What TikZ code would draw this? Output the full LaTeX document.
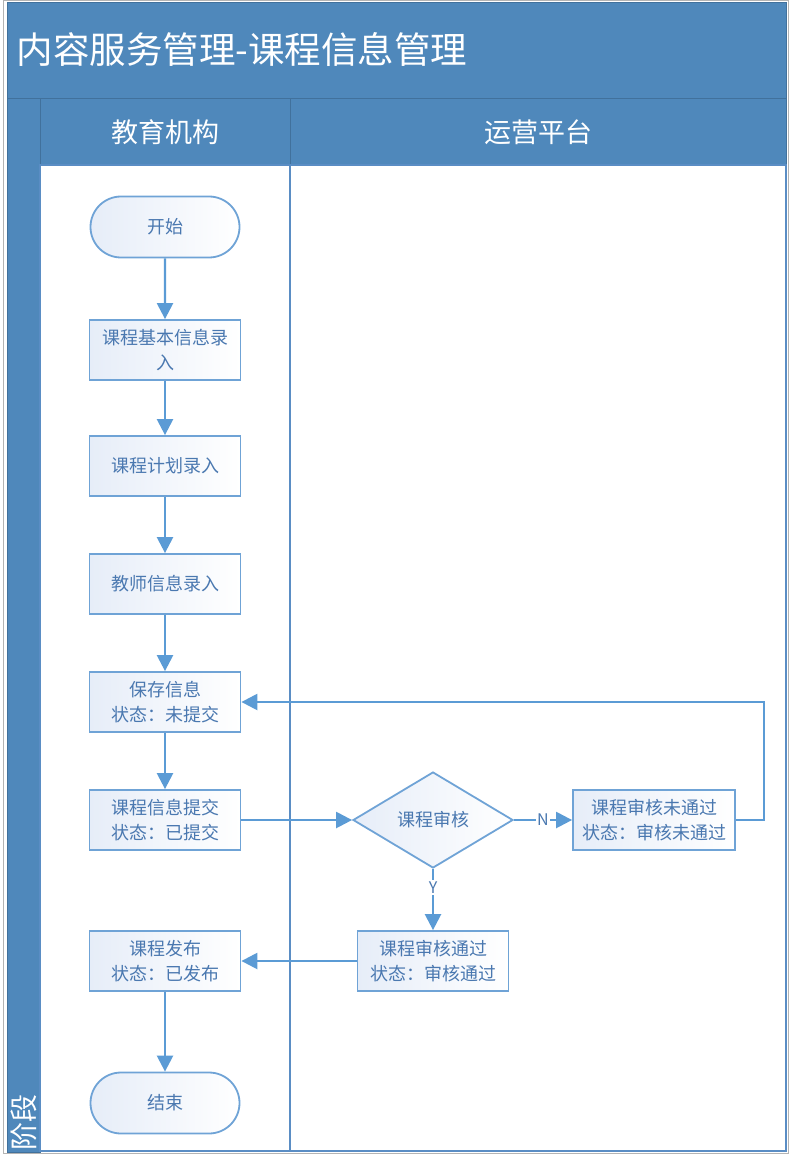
\documentclass[tikz,border=0pt]{standalone}
\usepackage{fontspec}
\newfontfamily\cjk{Noto Sans CJK SC}
\usetikzlibrary{shapes.geometric,shapes.misc,arrows.meta}
\definecolor{hdr}{HTML}{4F88BB}
\definecolor{hdrline}{HTML}{41719C}
\definecolor{laneline}{HTML}{5A8DC4}
\definecolor{nodeline}{HTML}{6FA3D6}
\definecolor{nodetext}{HTML}{4A78B0}
\definecolor{arrowc}{HTML}{5B9BD5}
\definecolor{nodefill}{HTML}{E6EDF8}
\definecolor{framec}{HTML}{B4B4B4}
\begin{document}
\begin{tikzpicture}[x=1pt,y=-1pt,
  nodetxt/.style={text=nodetext,font=\cjk\fontsize{18}{25}\selectfont,align=center},
  procbox/.style={nodetxt,rectangle,draw=nodeline,line width=1.8pt,left color=nodefill,right color=white,minimum width=151pt,minimum height=60pt,inner sep=1pt},
  termbox/.style={nodetxt,rounded rectangle,draw=nodeline,line width=1.8pt,left color=nodefill,right color=white,minimum width=153pt,minimum height=61pt,inner sep=2pt},
  decbox/.style={nodetxt,diamond,draw=nodeline,line width=1.8pt,left color=nodefill,right color=white,minimum width=160pt,minimum height=96pt,inner sep=0pt},
  arr/.style={draw=arrowc,line width=2.4pt,-{Triangle[length=16pt,width=16pt]}},
  lbl/.style={fill=white,text=nodetext,font=\cjk\fontsize{16}{18}\selectfont,inner sep=1.5pt},
  hdrtxt/.style={text=white,font=\cjk\fontsize{27}{30}\selectfont}
]
\useasboundingbox (0,0) rectangle (790,1155);
% frame
\draw[framec,line width=1pt] (3,1) rectangle (788,1153);
% title bar
\fill[hdr] (7,3) rectangle (786,99);
\draw[hdrline,line width=1pt] (7,3) rectangle (786,99);
\node[anchor=west,text=white,font=\cjk\fontsize{36.5}{40}\selectfont] (title) at (13,50) {内容服务管理-课程信息管理};
% left stripe
\fill[hdr] (7,99) rectangle (40,1152);
\draw[hdrline,line width=1pt] (7,99) rectangle (40,1152);
\node[rotate=90,anchor=west,text=white,font=\cjk\fontsize{28}{30}\selectfont,inner sep=0pt] (stage) at (24,1151) {阶段};
% lane headers
\fill[hdr] (40,99) rectangle (786,165);
\draw[hdrline,line width=1pt] (40,99) rectangle (290,165);
\draw[hdrline,line width=1pt] (290,99) rectangle (786,165);
\node[hdrtxt] (h1) at (165,132) {教育机构};
\node[hdrtxt] (h2) at (538,132) {运营平台};
% lane bodies
\draw[laneline,line width=1.6pt] (40,165) rectangle (290,1151);
\draw[laneline,line width=1.6pt] (290,165) rectangle (786,1151);
% nodes
\node[termbox] (start) at (165,227) {开始};
\node[procbox] (basic) at (165,350) {课程基本信息录\\入};
\node[procbox] (plan) at (165,466) {课程计划录入};
\node[procbox] (teacher) at (165,584) {教师信息录入};
\node[procbox] (save) at (165,702) {保存信息\\状态：未提交};
\node[procbox] (submit) at (165,820) {课程信息提交\\状态：已提交};
\node[decbox] (review) at (433,820) {课程审核};
\node[procbox,minimum width=162pt] (fail) at (654,820) {课程审核未通过\\状态：审核未通过};
\node[procbox] (pass) at (433,961) {课程审核通过\\状态：审核通过};
\node[procbox] (publish) at (165,961) {课程发布\\状态：已发布};
\node[termbox] (end) at (165,1103) {结束};
\coordinate (loop) at (764,702);
% connectors
\draw[arr] (start) -- (basic);
\draw[arr] (basic) -- (plan);
\draw[arr] (plan) -- (teacher);
\draw[arr] (teacher) -- (save);
\draw[arr] (save) -- (submit);
\draw[arr] (submit) -- (review);
\draw[arr] (review) -- node[lbl]{N} (fail);
\draw[arr] (fail.east) -| (loop) -- (save.east);
\draw[arr] (review) -- node[lbl,pos=0.3]{Y} (pass);
\draw[arr] (pass) -- (publish);
\draw[arr] (publish) -- (end);
\end{tikzpicture}
\end{document}
